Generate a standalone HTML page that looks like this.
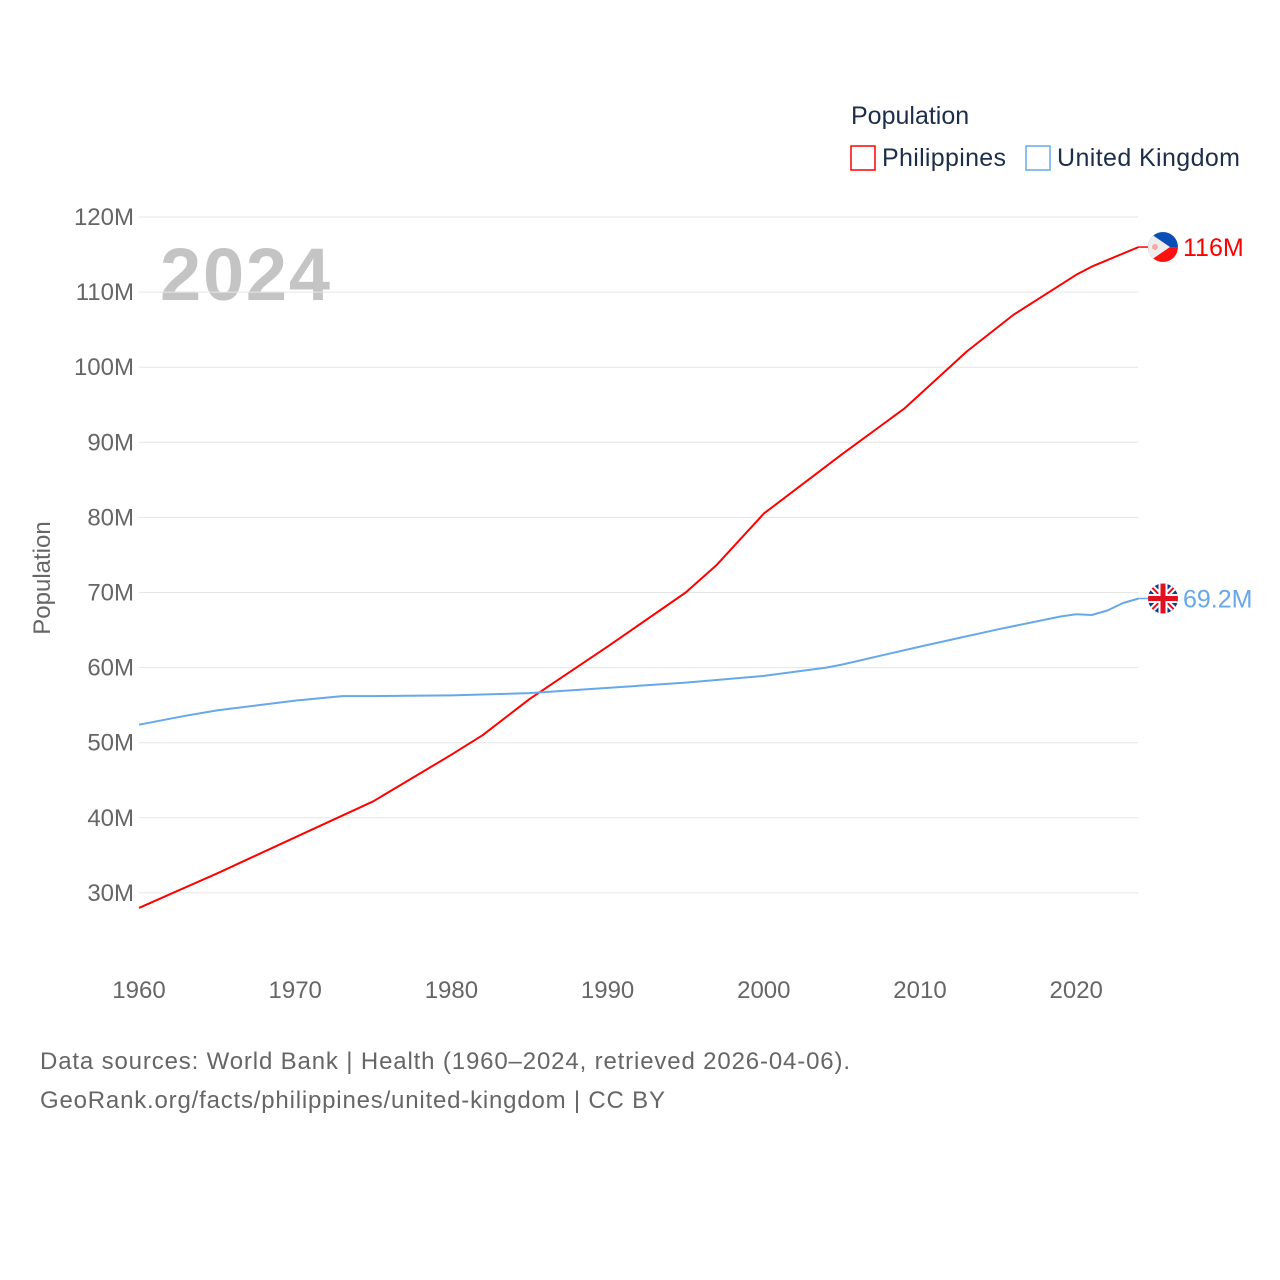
<!DOCTYPE html>
<html><head><meta charset="utf-8"><style>
body{margin:0;background:#fff;font-family:"Liberation Sans",sans-serif}
svg{display:block}
</style></head><body>
<svg id="c" width="1280" height="1280" xmlns="http://www.w3.org/2000/svg">
<text x="851" y="124" font-size="25" fill="#1c2e4a">Population</text>
<rect x="851" y="146" width="24" height="24" fill="none" stroke="#ff0000" stroke-width="1.5"/>
<text x="882" y="166" font-size="25" fill="#1c2e4a" textLength="124">Philippines</text>
<rect x="1026" y="146" width="24" height="24" fill="none" stroke="#66a8ea" stroke-width="1.5"/>
<text x="1057" y="166" font-size="25" fill="#1c2e4a" textLength="183">United Kingdom</text>
<text x="160" y="300" font-size="74" font-weight="bold" fill="#c4c4c4" textLength="170">2024</text>
<text transform="translate(50,578) rotate(-90)" text-anchor="middle" font-size="24" fill="#666">Population</text>
<g id="grid"></g><g id="lines"></g>
<text x="40" y="1069" font-size="24" fill="#666" textLength="810">Data sources: World Bank | Health (1960–2024, retrieved 2026-04-06).</text>
<text x="40" y="1108" font-size="24" fill="#666" textLength="625">GeoRank.org/facts/philippines/united-kingdom | CC BY</text>
</svg>
<script>
const yTicks=[30,40,50,60,70,80,90,100,110,120];
const xTicks=[1960,1970,1980,1990,2000,2010,2020];
const phYears=[1960,1965,1970,1975,1980,1982,1985,1990,1995,1997,2000,2005,2009,2013,2016,2020,2021,2024];
const phVals=[28.0,32.6,37.4,42.2,48.4,51.0,55.8,62.8,70.0,73.7,80.5,88.4,94.5,102.1,107.0,112.3,113.4,116.0];
const ukYears=[1960,1963,1965,1970,1973,1975,1980,1985,1990,1995,2000,2004,2005,2010,2015,2019,2020,2021,2022,2023,2024];
const ukVals=[52.4,53.6,54.3,55.6,56.2,56.2,56.3,56.6,57.3,58.0,58.9,60.0,60.4,62.8,65.1,66.8,67.1,67.0,67.6,68.6,69.2];
const X=y=>139+(y-1960)*15.62, Y=v=>217+(120-v)*7.51;
const NS="http://www.w3.org/2000/svg";
const g=document.getElementById('grid'), L=document.getElementById('lines');
function mk(t,a,p){const e=document.createElementNS(NS,t);for(const k in a)e.setAttribute(k,a[k]);p.appendChild(e);return e;}
yTicks.forEach(v=>{
 const l=mk('line',{x1:139,x2:1138,y1:Y(v),y2:Y(v),stroke:'#e6e6e6','stroke-width':1},g);
 
 
 const t=mk('text',{x:134,y:Y(v)+8,'text-anchor':'end','font-size':24,fill:'#666'},g);t.textContent=v+'M';
 
 
});
xTicks.forEach(v=>{
 const t=mk('text',{x:X(v),y:998,'text-anchor':'middle','font-size':24,fill:'#666'},g);t.textContent=v;
 
 
});
function line(ys,vs,col,name){
 const d=ys.map((y,i)=>(i?'L':'M')+X(y).toFixed(1)+','+Y(vs[i]).toFixed(1)).join('');
 const p=mk('path',{d:d,fill:'none',stroke:col,'stroke-width':2,'stroke-linejoin':'round'},L);
 
 
 const ly=Y(vs[vs.length-1]);
 mk('line',{x1:X(2024),x2:1152,y1:ly,y2:ly,stroke:col,'stroke-width':1.5},L);
 return ly;
}
const py=line(phYears,phVals,'#ff0000','line-philippines');
const uy=line(ukYears,ukVals,'#66a8ea','line-uk');
const fp=mk('g',{},L);
const cp1=mk('clipPath',{id:'cp1'},fp);mk('circle',{cx:1163,cy:py,r:15},cp1);
const g1=mk('g',{'clip-path':'url(#cp1)'},fp);
mk('rect',{x:1148,y:py-15,width:30,height:15,fill:'#0a4fb5'},g1);
mk('rect',{x:1148,y:py,width:30,height:15,fill:'#ff1010'},g1);
mk('polygon',{points:`1148,${py-15} 1170,${py} 1148,${py+15}`,fill:'#eee'},g1);
mk('circle',{cx:1155,cy:py,r:3,fill:'#f8a8a8'},g1);
const t1=mk('text',{x:1183,y:py+9,'font-size':25,fill:'#ff0000'},L);t1.textContent='116M';


const fu=mk('g',{},L);
const cp2=mk('clipPath',{id:'cp2'},fu);mk('circle',{cx:1163,cy:uy,r:15},cp2);
const g2=mk('g',{'clip-path':'url(#cp2)'},fu);
mk('rect',{x:1148,y:uy-15,width:30,height:30,fill:'#0a3a9a'},g2);
mk('path',{d:`M1148,${uy-15}L1178,${uy+15}M1178,${uy-15}L1148,${uy+15}`,stroke:'#fff','stroke-width':6},g2);
mk('path',{d:`M1148,${uy-15}L1178,${uy+15}M1178,${uy-15}L1148,${uy+15}`,stroke:'#e01020','stroke-width':2},g2);
mk('path',{d:`M1163,${uy-15}V${uy+15}M1148,${uy}H1178`,stroke:'#fff','stroke-width':9},g2);
mk('path',{d:`M1163,${uy-15}V${uy+15}M1148,${uy}H1178`,stroke:'#e01020','stroke-width':5},g2);
const t2=mk('text',{x:1183,y:uy+9,'font-size':25,fill:'#66a8ea'},L);t2.textContent='69.2M';


</script>
</body></html>
